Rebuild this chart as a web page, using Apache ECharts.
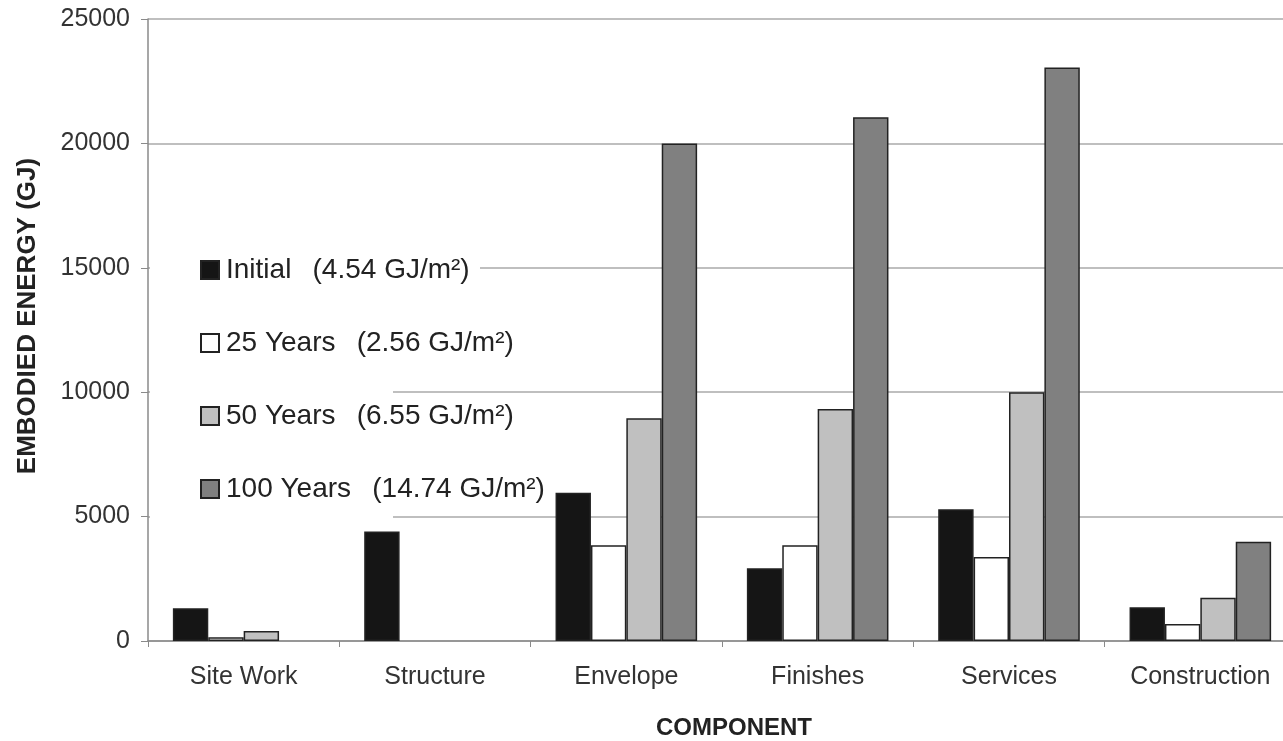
<!DOCTYPE html>
<html>
<head>
<meta charset="utf-8">
<script src="https://cdn.jsdelivr.net/npm/echarts@6/dist/echarts.min.js"></script>
<style>
html,body{margin:0;padding:0;background:#fff;overflow:hidden;}
#c{width:1296px;height:741px;}
</style>
</head>
<body>
<div id="c"></div>
<script>
const categories = ['Site Work', 'Structure', 'Envelope', 'Finishes', 'Services', 'Construction'];
const seriesNames = ['Initial  \u2009(4.54 GJ/m²)', '25 Years  \u2009(2.56 GJ/m²)', '50 Years  \u2009(6.55 GJ/m²)', '100 Years  \u2009(14.74 GJ/m²)'];
const initialVals = [1320, 4400, 5960, 2920, 5300, 1360];
const years25Vals = [150, 0, 3850, 3850, 3380, 680];
const years50Vals = [400, 0, 8950, 9320, 10000, 1740];
const years100Vals = [0, 0, 20000, 21050, 23050, 3990];
const yTicks = [0, 5000, 10000, 15000, 20000, 25000];

const colors = ['#151515', '#ffffff', '#c0c0c0', '#808080'];
const allVals = [initialVals, years25Vals, years50Vals, years100Vals];

const chart = echarts.init(document.getElementById('c'), null, {renderer: 'canvas'});
const font = 'Liberation Sans, Arial, sans-serif';

const option = {
  backgroundColor: '#ffffff',
  animation: false,
  grid: {left: 148, top: 19, right: 0, bottom: 100, containLabel: false},
  legend: {
    orient: 'vertical',
    left: 195, top: 251,
    itemWidth: 18, itemHeight: 18, itemGap: 45,
    icon: 'rect',
    z: 20,
    textStyle: {fontFamily: font, fontSize: 28, lineHeight: 28, color: '#222', padding: [0,0,0,2]},
    data: seriesNames
  },
  xAxis: {
    type: 'category',
    data: categories,
    axisLine: {lineStyle: {color: '#8a8a8a', width: 1.5}},
    axisTick: {show: true, length: 6, lineStyle: {color: '#8a8a8a'}},
    axisLabel: {fontFamily: font, fontSize: 25, color: '#333', margin: 24}
  },
  yAxis: {
    type: 'value',
    min: yTicks[0], max: yTicks[yTicks.length-1], interval: 5000,
    axisLine: {show: true, lineStyle: {color: '#8a8a8a', width: 1.5}},
    axisTick: {show: true, length: 7, lineStyle: {color: '#8a8a8a'}},
    axisLabel: {fontFamily: font, fontSize: 25, color: '#333', margin: 18, formatter: v => String(v)},
    splitLine: {lineStyle: {color: '#aaaaaa', width: 1.5}}
  },
  graphic: [
    {type: 'rect', left: 150, top: 240, z: 3, shape: {width: 243, height: 285}, style: {fill: '#ffffff'}},
    {type: 'rect', left: 390, top: 258, z: 3, shape: {width: 90, height: 20}, style: {fill: '#ffffff'}},
    {type: 'text', x: 734, y: 728, z: 5, style: {text: 'COMPONENT', fontFamily: font, fontSize: 24, fontWeight: 'bold', fill: '#222', align: 'center', verticalAlign: 'middle'}},
    {type: 'text', rotation: Math.PI/2, z: 5, x: 28, y: 316, style: {text: 'EMBODIED ENERGY (GJ)', fontFamily: font, fontSize: 26, fontWeight: 'bold', fill: '#222', align: 'center', verticalAlign: 'middle'}}
  ],
  series: seriesNames.map((n, i) => ({
    name: n,
    type: 'bar',
    data: allVals[i].map(v => v === 0 ? '-' : v),
    barGap: '0%',
    barCategoryGap: '26%',
    itemStyle: {color: colors[i], borderColor: '#222', borderWidth: 1.5},
    z: 2
  }))
};
chart.setOption(option);
</script>
</body>
</html>
